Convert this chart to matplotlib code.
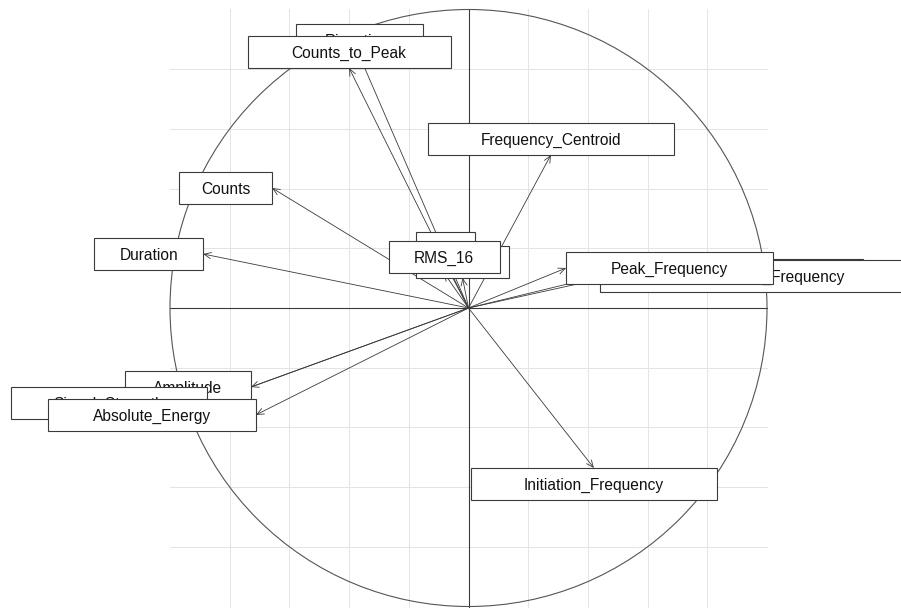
import matplotlib
matplotlib.use('Agg')
import matplotlib.pyplot as plt
from matplotlib.patches import Rectangle, Circle
import numpy as np

# Variables (drawing order) and their coordinates on the two components
variables = ["Rise_time", "Counts", "Energy", "Duration", "Amplitude",
             "Average_Frequency", "ASL", "RMS_16", "Counts_to_Peak",
             "Reverberation_Frequency", "Initiation_Frequency",
             "Signal_Strength", "Absolute_Energy", "Frequency_Centroid",
             "Peak_Frequency"]
dim1 = [-0.365, -0.658, -0.020, -0.889, -0.729,
        0.504, -0.077, -0.082, -0.400,
        0.441, 0.420,
        -0.876, -0.712, 0.276,
        0.327]
dim2 = [0.844, 0.402, 0.101, 0.181, -0.265,
        0.111, 0.147, 0.117, 0.804,
        0.107, -0.536,
        -0.318, -0.358, 0.513,
        0.134]
grid_breaks = [-0.8, -0.6, -0.4, -0.2, 0.2, 0.4, 0.6, 0.8]

W, H, dpi = 901, 608, 100
unit = 298.5            # pixels per unit
cx0, cy0 = 468.5, 308   # pixel position of origin

fig = plt.figure(figsize=(W / dpi, H / dpi), dpi=dpi)
ax = fig.add_axes([0, 0, 1, 1])
ax.set_xlim(-cx0 / unit, (W - cx0) / unit)
ax.set_ylim(-(H - cy0) / unit, cy0 / unit)
ax.axis('off')

for g in grid_breaks:
    ax.plot([g, g], [-1, 1], color='#e4e4e4', lw=0.7, zorder=1)
    ax.plot([-1, 1], [g, g], color='#e4e4e4', lw=0.7, zorder=1)
ax.plot([-1, 1], [0, 0], color='#3a3a3a', lw=0.8, zorder=2)
ax.plot([0, 0], [-1, 1], color='#3a3a3a', lw=0.8, zorder=2)
ax.add_patch(Circle((0, 0), 1, fill=False, ec='#555555', lw=0.8, zorder=2))

for x, y in zip(dim1, dim2):
    ax.annotate('', xy=(x, y), xytext=(0, 0),
                arrowprops=dict(arrowstyle='->,head_length=0.45,head_width=0.2',
                                color='#3a3a3a', lw=0.6, shrinkA=0, shrinkB=0,
                                mutation_scale=11),
                zorder=3)

renderer = fig.canvas.get_renderer()
px = 1.0 / unit
for i, (name, x, y) in enumerate(zip(variables, dim1, dim2)):
    z = 10 + 2 * i
    t = ax.text(0, 0, name, fontsize=11.2, family=['Liberation Sans', 'DejaVu Sans'],
                color='#111111', ha='center', va='baseline', zorder=z + 1)
    w = t.get_window_extent(renderer).width
    bw = (1.68 * w + 10) * px
    bh = 32 * px
    if abs(x) >= abs(y):
        bx = x + np.sign(x) * bw / 2
        by = y
    else:
        bx = x
        by = y + np.sign(y) * bh / 2
    ax.add_patch(Rectangle((bx - bw / 2, by - bh / 2), bw, bh, fc='white',
                           ec='#3a3a3a', lw=0.8, zorder=z))
    t.set_position((bx, by - 5.6 * px))

fig.savefig('out.png', dpi=dpi)
